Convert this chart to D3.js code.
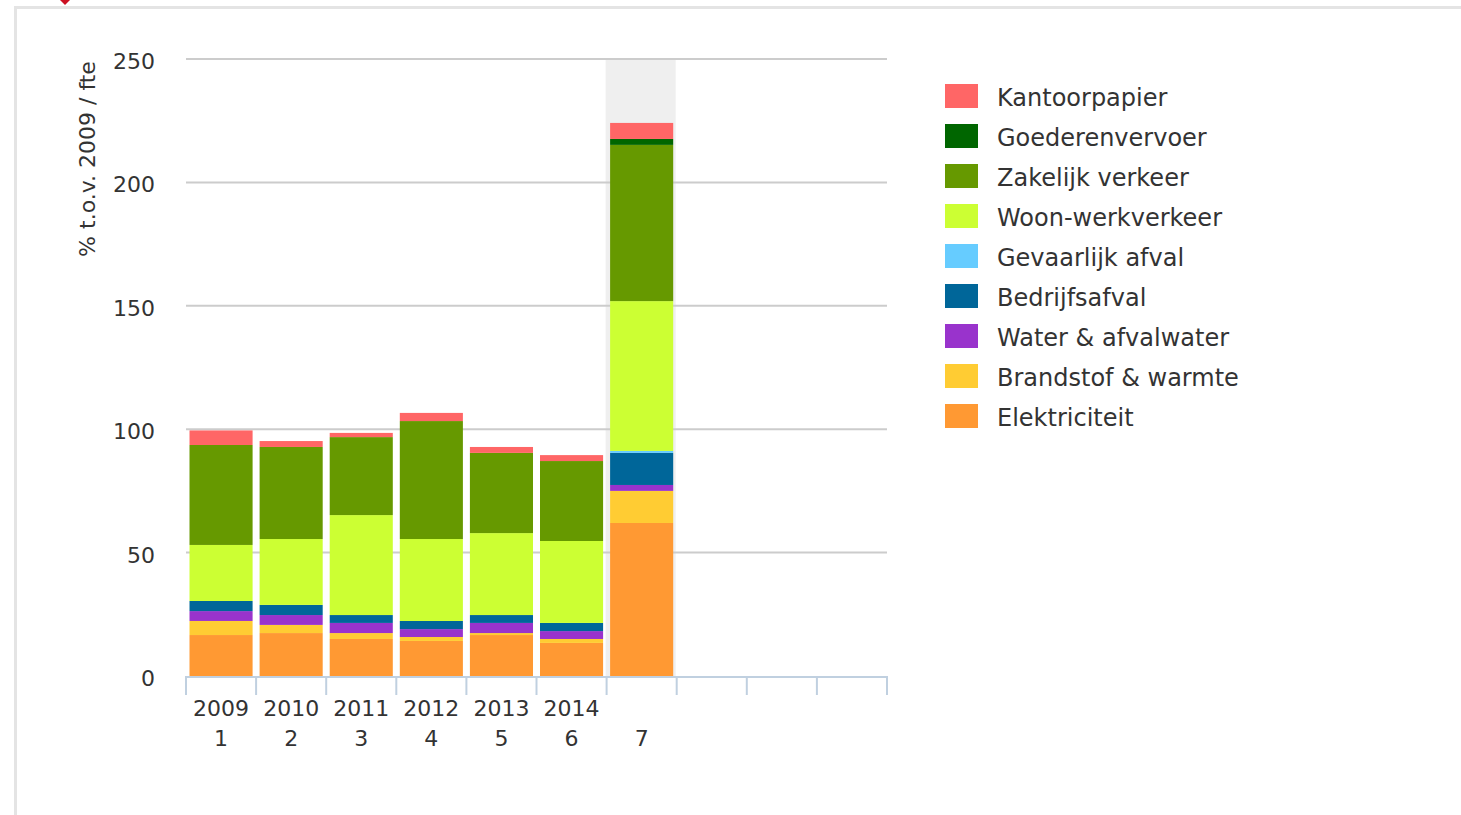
<!DOCTYPE html>
<html>
<head>
<meta charset="utf-8">
<script src="https://cdn.jsdelivr.net/npm/d3@7"></script>
<style>
  html, body { margin: 0; padding: 0; background: #fff; }
  svg { display: block; font-family: 'DejaVu Sans', sans-serif; }
  .tick-label { font-size: 22px; fill: #333; }
  .legend-label { font-size: 24px; fill: #333; }
</style>
</head>
<body>
<svg id="chart" width="1461" height="815"></svg>
<script>
(function () {
  'use strict';

  // categories 1..10, only the first seven carry data
  const categories = [1, 2, 3, 4, 5, 6, 7, 8, 9, 10];
  const yearLabels = ['2009', '2010', '2011', '2012', '2013', '2014', '', '', '', ''];
  const indexLabels = ['1', '2', '3', '4', '5', '6', '7', '', '', ''];
  const yTicks = [0, 50, 100, 150, 200, 250];

  // series, bottom of the stack first
  const seriesNames = [
    'Elektriciteit', 'Brandstof & warmte', 'Water & afvalwater', 'Bedrijfsafval',
    'Gevaarlijk afval', 'Woon-werkverkeer', 'Zakelijk verkeer', 'Goederenvervoer', 'Kantoorpapier'
  ];
  const seriesColors = [
    '#ff9933', '#ffcc33', '#9933cc', '#006699',
    '#66ccff', '#ccff33', '#669900', '#006600', '#ff6666'
  ];

  const elektriciteit = [16.6, 17.4, 15.0, 14.2, 16.6, 13.4, 62.0, 0, 0, 0];
  const brandstof     = [5.7, 3.3, 2.4, 1.6, 0.8, 1.6, 13.0, 0, 0, 0];
  const water         = [4.0, 4.0, 4.1, 3.2, 4.1, 3.2, 2.4, 0, 0, 0];
  const bedrijfsafval = [4.1, 4.1, 3.2, 3.3, 3.2, 3.3, 13.0, 0, 0, 0];
  const gevaarlijk    = [0, 0, 0, 0, 0, 0, 0.8, 0, 0, 0];
  const woonwerk      = [22.7, 26.7, 40.5, 33.2, 33.2, 33.2, 60.7, 0, 0, 0];
  const zakelijk      = [40.5, 37.3, 31.6, 47.8, 32.5, 32.4, 63.3, 0, 0, 0];
  const goederen      = [0, 0, 0, 0, 0, 0, 2.4, 0, 0, 0];
  const kantoorpapier = [5.9, 2.4, 1.7, 3.3, 2.4, 2.4, 6.5, 0, 0, 0];

  const seriesValues = [
    elektriciteit, brandstof, water, bedrijfsafval,
    gevaarlijk, woonwerk, zakelijk, goederen, kantoorpapier
  ];

  const highlighted = 7;

  const svg = d3.select('#chart');

  const PLOT_L = 186;
  const PLOT_R = 887;
  const PLOT_T = 59;
  const PLOT_B = 676;

  // outer frame and marker
  svg.append('path')
    .attr('d', 'M15.5,815 L15.5,7.5 L1461,7.5')
    .attr('fill', 'none')
    .attr('stroke', '#e4e4e4')
    .attr('stroke-width', 3);
  svg.append('path')
    .attr('d', 'M58,-2 L72,-2 L65,5 Z')
    .attr('fill', '#cc1122');

  const x = d3.scaleBand()
    .domain(categories)
    .range([PLOT_L, PLOT_R])
    .paddingInner(0.1)
    .paddingOuter(0.05);

  const y = d3.scaleLinear()
    .domain([0, 250])
    .range([PLOT_B, PLOT_T]);

  const step = x.step();
  const slotLeft = c => PLOT_L + categories.indexOf(c) * step;

  // hover band behind column 7
  svg.append('rect')
    .attr('x', slotLeft(highlighted) - 1)
    .attr('y', PLOT_T)
    .attr('width', step)
    .attr('height', PLOT_B - PLOT_T)
    .attr('fill', '#efefef');

  // gridlines
  svg.append('g')
    .selectAll('line')
    .data(yTicks.filter(t => t > 0))
    .join('line')
    .attr('x1', PLOT_L)
    .attr('x2', PLOT_R)
    .attr('y1', d => y(d))
    .attr('y2', d => y(d))
    .attr('stroke', '#cccccc')
    .attr('stroke-width', 2);

  // y tick labels
  svg.append('g')
    .selectAll('text')
    .data(yTicks)
    .join('text')
    .attr('class', 'tick-label')
    .attr('x', 155)
    .attr('y', d => y(d) + 10)
    .attr('text-anchor', 'end')
    .text(d => d);

  // y title
  svg.append('text')
    .attr('class', 'tick-label')
    .attr('transform', 'translate(95,159) rotate(-90)')
    .attr('text-anchor', 'middle')
    .text('% t.o.v. 2009 / fte');

  // stacked bars
  const table = categories.map((c, i) => {
    const row = { cat: c };
    seriesNames.forEach((s, k) => { row[s] = seriesValues[k][i]; });
    return row;
  });
  const stacked = d3.stack().keys(seriesNames)(table);
  const color = d3.scaleOrdinal().domain(seriesNames).range(seriesColors);

  svg.append('g')
    .selectAll('g')
    .data(stacked)
    .join('g')
    .attr('fill', d => color(d.key))
    .selectAll('rect')
    .data(d => d.filter(p => p[1] - p[0] > 0))
    .join('rect')
    .attr('x', d => x(d.data.cat))
    .attr('width', x.bandwidth())
    .attr('y', d => y(d[1]))
    .attr('height', d => y(d[0]) - y(d[1]));

  // x axis line and ticks
  const axis = svg.append('g')
    .attr('stroke', '#c0d0e0')
    .attr('stroke-width', 2);
  axis.append('line')
    .attr('x1', PLOT_L)
    .attr('x2', PLOT_R + 1)
    .attr('y1', PLOT_B + 1)
    .attr('y2', PLOT_B + 1);
  axis.selectAll('line.tk')
    .data(d3.range(categories.length + 1))
    .join('line')
    .attr('class', 'tk')
    .attr('x1', i => PLOT_L + i * step)
    .attr('x2', i => PLOT_L + i * step)
    .attr('y1', PLOT_B)
    .attr('y2', PLOT_B + 19);

  // x labels, two lines
  const xl = svg.append('g')
    .selectAll('text')
    .data(categories)
    .join('text')
    .attr('class', 'tick-label')
    .attr('text-anchor', 'middle');
  xl.append('tspan')
    .attr('x', d => x(d) + x.bandwidth() / 2)
    .attr('y', 716)
    .text((d, i) => yearLabels[i]);
  xl.append('tspan')
    .attr('x', d => x(d) + x.bandwidth() / 2)
    .attr('y', 746)
    .text((d, i) => indexLabels[i]);

  // legend, top of stack first
  const legendOrder = seriesNames.slice().reverse();
  const lg = svg.append('g')
    .selectAll('g')
    .data(legendOrder)
    .join('g')
    .attr('transform', (d, i) => `translate(945,${84 + i * 40})`);
  lg.append('rect')
    .attr('width', 33)
    .attr('height', 24)
    .attr('fill', d => color(d));
  lg.append('text')
    .attr('class', 'legend-label')
    .attr('x', 52)
    .attr('y', 22)
    .text(d => d);
})();
</script>
</body>
</html>
